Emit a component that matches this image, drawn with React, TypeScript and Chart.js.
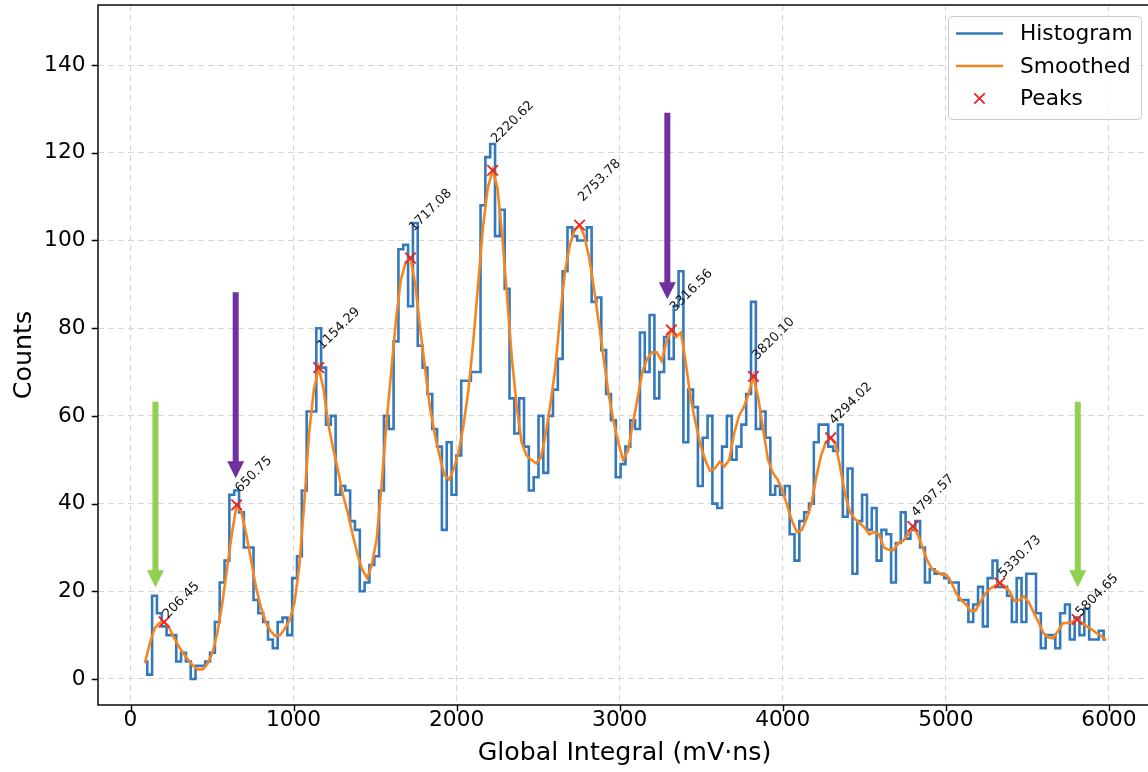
import React, { useEffect, useRef } from "react";
import { Chart, registerables } from "chart.js";

Chart.register(...registerables);

// ---------- data ----------
const BIN_FIRST_CENTER = 87.97;
const BIN_WIDTH = 29.62;

const HIST_COUNTS = [
  4, 1, 19, 15, 12, 10, 10, 4, 6, 4,
  0, 3, 3, 4, 6, 13, 22, 27, 42, 43,
  38, 30, 30, 18, 15, 13, 9, 7, 13, 14,
  10, 23, 28, 43, 61, 61, 80, 71, 58, 60,
  42, 44, 43, 36, 34, 20, 22, 26, 28,
  43, 60, 57, 77, 98, 99, 85, 104, 76, 71,
  65, 57, 53, 34, 54, 42, 51, 68, 68, 70,
  70, 108, 119, 122, 101, 107, 89, 64, 56, 64,
  53, 43, 46, 60, 47, 60, 66, 73, 93, 103,
  101, 100, 100, 103, 86, 87, 75, 65, 59, 46,
  49, 53, 59, 57, 79, 70, 83, 64, 70, 78,
  73, 85, 93, 54, 66, 62, 44, 55, 60, 40,
  39, 53, 60, 50, 53, 58, 65, 86, 57, 61,
  55, 42, 44, 42, 44, 33, 27, 36, 38, 40,
  54, 58, 58, 53, 52, 58, 37, 48, 24, 36,
  42, 34, 39, 27, 34, 33, 22, 31, 38, 32,
  34, 36, 30, 22, 25, 24, 24, 23, 22, 22,
  18, 18, 13, 17, 21, 12, 23, 27, 21, 21,
  19, 13, 23, 13, 24, 24, 15, 7, 10, 10,
  7, 15, 17, 9, 14, 10, 16, 9, 9, 11, 9,
];

const SMOOTHED = [
  3.6, 8, 11.5, 12.8, 13, 11.8, 9.5, 7.5, 5.8, 4.3,
  3, 2.2, 2.2, 3.5, 6, 10.5, 17, 25, 33, 39.7,
  38, 33, 27, 21, 16.5, 13, 11, 9.8, 10, 11.5,
  13.5, 17.5, 26, 40, 56, 66, 71, 66, 58, 52.5,
  47.5, 42, 38, 33, 28.5, 25, 23, 26, 32,
  44, 58, 70, 82, 91, 95, 96, 90, 80, 71,
  62, 56, 51, 46.5, 45.5, 48, 52, 58, 66, 77,
  90, 103, 112, 116, 112, 101, 87, 73, 62, 54,
  51, 50, 49.2, 50.5, 56, 63, 71, 83, 93, 99,
  102.5, 103.5, 101, 96, 89, 81, 73, 65, 59, 54,
  50, 52, 58, 64, 70, 73, 74.5, 74.5, 72.5, 77,
  79.6, 78, 79, 72, 64, 58.5, 53.5, 50, 47.5, 48,
  49.5, 48.5, 50, 56, 60, 62, 65, 69, 64, 57,
  50, 47, 45.5, 43, 39.5, 36, 33.5, 34, 36.5, 40,
  46, 51, 54, 55, 53.5, 48, 42, 38, 36.5, 35.5,
  34.5, 33, 33.5, 33, 30, 29.5, 29.4, 31, 31.5, 33,
  34.8, 33, 30, 27, 25, 24.5, 23.8, 23.7, 22, 19.5,
  18, 17, 15.5, 15.6, 17.6, 19.5, 20.6, 21.3, 21.9, 21.2,
  20, 17.8, 18, 18.8, 17.5, 15.2, 13, 10.5, 9.5, 9.3,
  10.8, 12.7, 12.8, 13, 13.6, 12.8, 12, 11.3, 10.5, 9.8, 8.9,
];

const PEAK_X = [206.45, 650.75, 1154.29, 1717.08, 2220.62, 2753.78, 3316.56, 3820.10, 4294.02, 4797.57, 5330.73, 5804.65];
const PEAK_Y = [13, 39.7, 71, 96, 116, 103.5, 79.6, 69, 55, 34.8, 21.9, 13.6];
// vertical anchor (data units) of each rotated peak label
const PEAK_LABEL_Y = [13.7, 42.4, 75.0, 102.0, 122.1, 108.8, 83.7, 72.7, 57.9, 36.9, 23.0, 14.2];

const X_TICKS = [0, 1000, 2000, 3000, 4000, 5000, 6000];
const Y_TICKS = [0, 20, 40, 60, 80, 100, 120, 140];
const X_MIN = -199.3;
const X_MAX = 6258;
const Y_MIN = -5.93;
const Y_MAX = 153.7;

// annotation arrows (data coords): x, top of shaft, tip
const ARROW_X = [153, 645, 3292, 5809];
const ARROW_TOP = [63.2, 88.2, 129.1, 63.2];
const ARROW_TIP = [20.9, 45.8, 86.6, 20.9];
const ARROW_COLOR = ["#92d050", "#7030a0", "#7030a0", "#92d050"];

const LEGEND_LABELS = ["Histogram", "Smoothed", "Peaks"];
const X_LABEL = "Global Integral (mV\u00b7ns)";
const Y_LABEL = "Counts";

const HIST_COLOR = "#3479bb";
const SMOOTH_COLOR = "#f7851f";
const PEAK_COLOR = "#ee2222";
const FONT = "'DejaVu Sans', sans-serif";

export default function App() {
  const ref = useRef<HTMLCanvasElement>(null);

  useEffect(() => {
    const canvas = ref.current;
    if (!canvas) return;
    const centers = HIST_COUNTS.map((_, k) => BIN_FIRST_CENTER + k * BIN_WIDTH);
    const histPts = HIST_COUNTS.map((c, k) => ({ x: centers[k], y: c }));
    const smoothPts = SMOOTHED.map((v, k) => ({ x: centers[k], y: v }));
    const peakPts = PEAK_X.map((x, i) => ({ x, y: PEAK_Y[i] }));

    const drawCross = (ctx: CanvasRenderingContext2D, cx: number, cy: number, r: number) => {
      ctx.beginPath();
      ctx.moveTo(cx - r, cy - r);
      ctx.lineTo(cx + r, cy + r);
      ctx.moveTo(cx - r, cy + r);
      ctx.lineTo(cx + r, cy - r);
      ctx.stroke();
    };

    const decor = {
      id: "decor",
      afterDatasetsDraw(chart: any) {
        const ctx: CanvasRenderingContext2D = chart.ctx;
        const xs = chart.scales.x;
        const ys = chart.scales.y;
        // peak annotations
        ctx.save();
        ctx.fillStyle = "#111";
        ctx.font = `13px ${FONT}`;
        ctx.textAlign = "left";
        ctx.textBaseline = "alphabetic";
        PEAK_X.forEach((x, i) => {
          const px = xs.getPixelForValue(x);
          const py = ys.getPixelForValue(PEAK_LABEL_Y[i]);
          ctx.save();
          ctx.translate(px + 3.5, py);
          ctx.rotate(-Math.PI / 4);
          ctx.fillText(x.toFixed(2), 0, 0);
          ctx.restore();
        });
        ctx.restore();
        // arrows
        ctx.save();
        ARROW_X.forEach((x, i) => {
          const px = xs.getPixelForValue(x);
          const top = ys.getPixelForValue(ARROW_TOP[i]);
          const tip = ys.getPixelForValue(ARROW_TIP[i]);
          const headLen = 17;
          const headHalf = 8.5;
          const shaftHalf = 3;
          ctx.fillStyle = ARROW_COLOR[i];
          ctx.beginPath();
          ctx.moveTo(px - shaftHalf, top);
          ctx.lineTo(px + shaftHalf, top);
          ctx.lineTo(px + shaftHalf, tip - headLen);
          ctx.lineTo(px + headHalf, tip - headLen);
          ctx.lineTo(px, tip);
          ctx.lineTo(px - headHalf, tip - headLen);
          ctx.lineTo(px - shaftHalf, tip - headLen);
          ctx.closePath();
          ctx.fill();
        });
        ctx.restore();
      },
      afterDraw(chart: any) {
        const ctx: CanvasRenderingContext2D = chart.ctx;
        const a = chart.chartArea;
        const xs = chart.scales.x;
        const ys = chart.scales.y;
        ctx.save();
        // spines
        ctx.strokeStyle = "#000";
        ctx.lineWidth = 1.45;
        ctx.strokeRect(a.left, a.top, a.right - a.left, a.bottom - a.top);
        // tick marks
        ctx.beginPath();
        X_TICKS.forEach((v) => {
          const px = Math.round(xs.getPixelForValue(v)) + 0.5;
          ctx.moveTo(px, a.bottom);
          ctx.lineTo(px, a.bottom + 6.3);
        });
        Y_TICKS.forEach((v) => {
          const py = Math.round(ys.getPixelForValue(v)) + 0.5;
          ctx.moveTo(a.left - 6.3, py);
          ctx.lineTo(a.left, py);
        });
        ctx.stroke();
        // axis titles
        ctx.fillStyle = "#000";
        ctx.font = `25.3px ${FONT}`;
        ctx.textAlign = "center";
        ctx.textBaseline = "middle";
        ctx.fillText(X_LABEL, (a.left + a.right) / 2, 753);
        ctx.save();
        ctx.translate(24, (a.top + a.bottom) / 2);
        ctx.rotate(-Math.PI / 2);
        ctx.fillText(Y_LABEL, 0, 0);
        ctx.restore();
        // legend
        const bx = 948.5, by = 16.5, bw = 193, bh = 103;
        ctx.beginPath();
        ctx.roundRect(bx, by, bw, bh, 4);
        ctx.fillStyle = "rgba(255,255,255,0.8)";
        ctx.fill();
        ctx.strokeStyle = "#cccccc";
        ctx.lineWidth = 1;
        ctx.stroke();
        const rowsY = [33.5, 66, 98.5];
        ctx.lineWidth = 2.6;
        ctx.strokeStyle = HIST_COLOR;
        ctx.beginPath();
        ctx.moveTo(956, rowsY[0]);
        ctx.lineTo(1003, rowsY[0]);
        ctx.stroke();
        ctx.strokeStyle = SMOOTH_COLOR;
        ctx.beginPath();
        ctx.moveTo(956, rowsY[1]);
        ctx.lineTo(1003, rowsY[1]);
        ctx.stroke();
        ctx.strokeStyle = PEAK_COLOR;
        ctx.lineWidth = 1.8;
        drawCross(ctx, 979.5, rowsY[2], 5.2);
        ctx.fillStyle = "#000";
        ctx.font = `21.7px ${FONT}`;
        ctx.textAlign = "left";
        ctx.textBaseline = "middle";
        LEGEND_LABELS.forEach((t, i) => ctx.fillText(t, 1020, rowsY[i] + 1));
        ctx.restore();
      },
    };

    const chart = new Chart(canvas, {
      type: "line",
      data: {
        datasets: [
          {
            label: "Histogram",
            data: histPts,
            stepped: "middle",
            borderColor: HIST_COLOR,
            borderWidth: 2.6,
            pointRadius: 0,
            fill: false,
            order: 3,
          } as any,
          {
            label: "Smoothed",
            data: smoothPts,
            borderColor: SMOOTH_COLOR,
            borderWidth: 2.6,
            pointRadius: 0,
            tension: 0,
            fill: false,
            order: 2,
          },
          {
            label: "Peaks",
            type: "scatter",
            data: peakPts,
            showLine: false,
            pointStyle: "crossRot",
            pointRadius: 7.5,
            borderColor: PEAK_COLOR,
            backgroundColor: PEAK_COLOR,
            borderWidth: 1.8,
            pointBorderWidth: 1.8,
            order: 1,
          } as any,
        ],
      },
      options: {
        responsive: false,
        animation: false,
        devicePixelRatio: 1,
        layout: { autoPadding: false, padding: { left: 0, top: 5, right: 9, bottom: 0 } },
        plugins: {
          legend: { display: false },
          tooltip: { enabled: false },
          title: { display: false },
        },
        scales: {
          x: {
            type: "linear",
            min: X_MIN,
            max: X_MAX,
            afterBuildTicks: (s: any) => {
              s.ticks = X_TICKS.map((v) => ({ value: v }));
            },
            afterFit: (s: any) => {
              s.height = 67;
              s.paddingLeft = 0;
              s.paddingRight = 0;
              s.paddingTop = 0;
              s.paddingBottom = 0;
            },
            grid: { color: "#d6d6d6", lineWidth: 1.1, drawTicks: false },
            border: { display: false, dash: [6, 4] },
            ticks: {
              font: { family: FONT, size: 21.7 },
              color: "#000",
              padding: 2,
              maxRotation: 0,
              autoSkip: false,
              callback: (v: any) => String(v),
            },
          },
          y: {
            type: "linear",
            min: Y_MIN,
            max: Y_MAX,
            afterBuildTicks: (s: any) => {
              s.ticks = Y_TICKS.map((v) => ({ value: v }));
            },
            afterFit: (s: any) => {
              s.width = 98;
              s.paddingLeft = 0;
              s.paddingRight = 0;
              s.paddingTop = 0;
              s.paddingBottom = 0;
            },
            grid: { color: "#d6d6d6", lineWidth: 1.1, drawTicks: false },
            border: { display: false, dash: [6, 4] },
            ticks: {
              font: { family: FONT, size: 21.7 },
              color: "#000",
              padding: 12.5,
              autoSkip: false,
              callback: (v: any) => String(v),
            },
          },
        },
      },
      plugins: [decor],
    } as any);

    return () => chart.destroy();
  }, []);

  return (
    <div
      style={{
        position: "fixed",
        left: 0,
        top: 0,
        width: 1148,
        height: 772,
        overflow: "hidden",
        background: "#fff",
      }}
    >
      <canvas ref={ref} width={1160} height={772} style={{ display: "block" }} />
    </div>
  );
}
